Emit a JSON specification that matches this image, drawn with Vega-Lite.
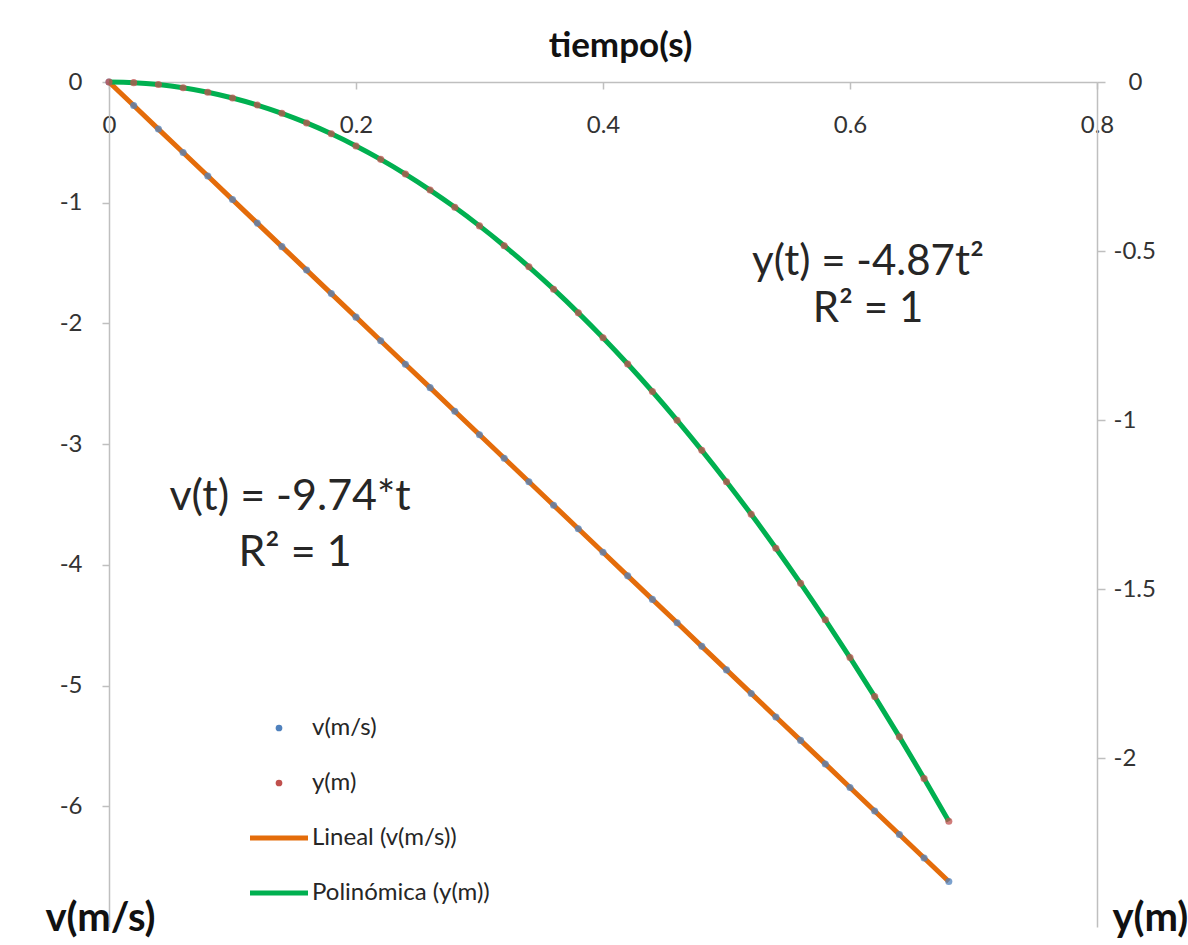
{
  "$schema": "https://vega.github.io/schema/vega-lite/v6.json",
  "width": 988,
  "height": 845,
  "autosize": {"type": "none"},
  "padding": {"left": 109, "top": 82, "right": 91, "bottom": 18},
  "background": "#ffffff",
  "config": {
    "font": "Lato",
    "view": {"stroke": null},
    "axis": {
      "grid": false,
      "labelFont": "Lato",
      "titleFont": "Lato",
      "domainColor": "#bfbfbf",
      "tickColor": "#bfbfbf",
      "domainWidth": 1.5,
      "tickWidth": 1.5,
      "labelColor": "#333333",
      "titleColor": "#111111",
      "labelFontSize": 24,
      "titleFontSize": 40,
      "titleFontWeight": "bold",
      "labelOverlap": false,
      "labelBound": false,
      "labelFlush": false
    }
  },
  "datasets": {
    "medidas": [
      {"t": 0.00, "v": 0.000, "y": 0.0000},
      {"t": 0.02, "v": -0.195, "y": -0.0019},
      {"t": 0.04, "v": -0.390, "y": -0.0076},
      {"t": 0.06, "v": -0.584, "y": -0.0170},
      {"t": 0.08, "v": -0.779, "y": -0.0303},
      {"t": 0.10, "v": -0.974, "y": -0.0473},
      {"t": 0.12, "v": -1.169, "y": -0.0681},
      {"t": 0.14, "v": -1.364, "y": -0.0927},
      {"t": 0.16, "v": -1.558, "y": -0.1211},
      {"t": 0.18, "v": -1.753, "y": -0.1533},
      {"t": 0.20, "v": -1.948, "y": -0.1892},
      {"t": 0.22, "v": -2.143, "y": -0.2289},
      {"t": 0.24, "v": -2.338, "y": -0.2724},
      {"t": 0.26, "v": -2.532, "y": -0.3197},
      {"t": 0.28, "v": -2.727, "y": -0.3708},
      {"t": 0.30, "v": -2.922, "y": -0.4257},
      {"t": 0.32, "v": -3.117, "y": -0.4844},
      {"t": 0.34, "v": -3.312, "y": -0.5468},
      {"t": 0.36, "v": -3.506, "y": -0.6130},
      {"t": 0.38, "v": -3.701, "y": -0.6830},
      {"t": 0.40, "v": -3.896, "y": -0.7568},
      {"t": 0.42, "v": -4.091, "y": -0.8344},
      {"t": 0.44, "v": -4.286, "y": -0.9157},
      {"t": 0.46, "v": -4.480, "y": -1.0009},
      {"t": 0.48, "v": -4.675, "y": -1.0898},
      {"t": 0.50, "v": -4.870, "y": -1.1825},
      {"t": 0.52, "v": -5.065, "y": -1.2790},
      {"t": 0.54, "v": -5.260, "y": -1.3793},
      {"t": 0.56, "v": -5.454, "y": -1.4833},
      {"t": 0.58, "v": -5.649, "y": -1.5912},
      {"t": 0.60, "v": -5.844, "y": -1.7028},
      {"t": 0.62, "v": -6.039, "y": -1.8182},
      {"t": 0.64, "v": -6.234, "y": -1.9374},
      {"t": 0.66, "v": -6.428, "y": -2.0604},
      {"t": 0.68, "v": -6.623, "y": -2.1872}
    ],
    "notas_arriba": [
      {"t": 0.6146, "v": -1.491, "texto": ["y(t) = -4.87t²", "R² = 1"]}
    ],
    "notas_abajo": [
      {"t": 0.1466, "v": -3.438, "texto": "v(t) = -9.74*t"},
      {"t": 0.1506, "v": -3.902, "texto": "R² = 1"}
    ]
  },
  "encoding": {
    "x": {
      "field": "t",
      "type": "quantitative",
      "scale": {"domain": [0, 0.8], "nice": false, "zero": false},
      "axis": {
        "orient": "bottom",
        "offset": -845,
        "values": [0, 0.2, 0.4, 0.6, 0.8],
        "format": ".1~f",
        "tickSize": 7,
        "labelPadding": 24,
        "title": "tiempo(s)",
        "titleFontSize": 35,
        "titleX": 511,
        "titleY": -26,
        "titleAlign": "center",
        "titleBaseline": "alphabetic",
        "titleAnchor": null
      }
    }
  },
  "layer": [
    {
      "data": {"name": "medidas"},
      "encoding": {
        "y": {
          "field": "v",
          "type": "quantitative",
          "scale": {"domain": [-7, 0], "nice": false, "zero": false},
          "axis": {
            "orient": "left",
            "values": [0, -1, -2, -3, -4, -5, -6],
            "format": "d",
            "labelExpr": "replace(datum.label, '−', '-')",
            "tickSize": 7,
            "labelPadding": 20,
            "title": "v(m/s)",
            "titleAngle": 0,
            "titleX": -9,
            "titleY": 836,
            "titleAlign": "center",
            "titleBaseline": "middle"
          }
        }
      },
      "layer": [
        {
          "mark": {"type": "line", "strokeWidth": 5},
          "encoding": {
            "color": {
              "datum": "Lineal (v(m/s))",
              "type": "nominal",
              "scale": {
                "domain": ["v(m/s)", "y(m)", "Lineal (v(m/s))", "Polinómica (y(m))"],
                "range": ["#4f81bd", "#c0504d", "#e46c0a", "#00b050"]
              },
              "legend": {
                "orient": "none",
                "legendX": 141,
                "legendY": 634,
                "title": null,
                "padding": 0,
                "labelFont": "Lato",
                "labelFontSize": 24,
                "labelColor": "#262626",
                "labelLimit": 400,
                "labelOffset": 4,
                "symbolSize": 3364,
                "rowPadding": 31,
                "encode": {
                  "symbols": {
                    "update": {
                      "x": {"value": 29},
                      "shape": {"signal": "indexof(['Lineal (v(m/s))','Polinómica (y(m))'], datum.value) >= 0 ? 'stroke' : 'circle'"},
                      "size": {"signal": "indexof(['Lineal (v(m/s))','Polinómica (y(m))'], datum.value) >= 0 ? 3364 : 45"},
                      "strokeWidth": {"signal": "indexof(['Lineal (v(m/s))','Polinómica (y(m))'], datum.value) >= 0 ? 5 : 0"},
                      "fill": {"signal": "indexof(['Lineal (v(m/s))','Polinómica (y(m))'], datum.value) >= 0 ? 'transparent' : scale('color', datum.value)"},
                      "stroke": {"scale": "color", "field": "value"},
                      "opacity": {"value": 1}
                    }
                  },
                  "labels": {
                    "update": {
                      "x": {"value": 62}
                    }
                  }
                }
              }
            }
          }
        },
        {
          "mark": {"type": "point", "filled": true, "size": 50, "opacity": 0.75},
          "encoding": {"color": {"datum": "v(m/s)", "type": "nominal"}}
        },
        {
          "data": {"name": "notas_arriba"},
          "mark": {"type": "text", "fontSize": 42, "lineHeight": 47, "font": "Lato", "color": "#262626", "align": "center", "baseline": "middle"},
          "encoding": {"text": {"field": "texto", "type": "nominal"}}
        },
        {
          "data": {"name": "notas_abajo"},
          "mark": {"type": "text", "fontSize": 43, "font": "Lato", "color": "#262626", "align": "center", "baseline": "middle"},
          "encoding": {"text": {"field": "texto", "type": "nominal"}}
        }
      ]
    },
    {
      "data": {"name": "medidas"},
      "encoding": {
        "y": {
          "field": "y",
          "type": "quantitative",
          "scale": {"domain": [-2.5, 0], "nice": false, "zero": false},
          "axis": {
            "orient": "right",
            "values": [0, -0.5, -1, -1.5, -2],
            "format": "~g",
            "labelExpr": "replace(datum.label, '−', '-')",
            "tickSize": 8,
            "labelPadding": {"condition": {"test": "datum.value === 0", "value": 23}, "value": 8},
            "labelAlign": "left",
            "title": "y(m)",
            "titleAngle": 0,
            "titleX": 15,
            "titleY": 836,
            "titleAlign": "left",
            "titleBaseline": "middle"
          }
        }
      },
      "layer": [
        {
          "mark": {"type": "line", "strokeWidth": 5, "interpolate": "monotone"},
          "encoding": {"color": {"datum": "Polinómica (y(m))", "type": "nominal"}}
        },
        {
          "mark": {"type": "point", "filled": true, "size": 50, "opacity": 0.75},
          "encoding": {"color": {"datum": "y(m)", "type": "nominal"}}
        }
      ]
    }
  ],
  "resolve": {"scale": {"y": "independent"}}
}
